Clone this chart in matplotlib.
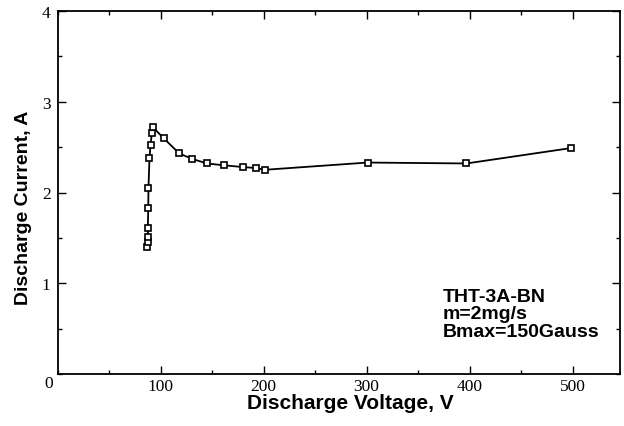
import matplotlib
matplotlib.use("Agg")
import matplotlib.pyplot as plt
from matplotlib.ticker import MultipleLocator

# Discharge current vs. discharge voltage, THT-3A-BN thruster
voltage = [86.7, 87.4, 87.7, 87.7, 88.1, 88.3, 89.3, 90.3, 91.6, 92.5,
           102.9, 118.2, 130.8, 145.0, 161.2, 180.3, 192.2, 201.0,
           301.0, 397.0, 498.7]
current = [1.40, 1.46, 1.51, 1.61, 1.83, 2.05, 2.38, 2.52, 2.66, 2.72,
           2.60, 2.43, 2.37, 2.32, 2.30, 2.28, 2.27, 2.25,
           2.33, 2.32, 2.49]

x_ticks = [100, 200, 300, 400, 500]
y_ticks = [1, 2, 3, 4]
note_lines = ["THT-3A-BN", "m=2mg/s", "Bmax=150Gauss"]

fig = plt.figure(figsize=(6.24, 4.27), dpi=100)
ax = fig.add_axes([57.5 / 624, 52 / 427, 562.5 / 624, 363 / 427])

ax.plot(voltage, current, color="black", lw=1.3, marker="s", ms=4.8,
        mfc="white", mec="black", mew=1.2, zorder=3)

ax.set_xlim(0, 546)
ax.set_ylim(0, 4)

ax.xaxis.set_minor_locator(MultipleLocator(50))
ax.yaxis.set_minor_locator(MultipleLocator(0.5))
ax.set_xticks(x_ticks)
ax.set_yticks(y_ticks)

ax.tick_params(which="both", direction="in", top=True, right=True,
               width=1.0, color="black")
ax.tick_params(which="major", length=6)
ax.tick_params(axis="x", which="major", pad=3)
ax.tick_params(axis="y", which="major", pad=5)
ax.tick_params(which="minor", length=3)

for lab in ax.get_xticklabels() + ax.get_yticklabels():
    lab.set_fontfamily("Liberation Serif")
    lab.set_fontsize(12.5)

for sp in ax.spines.values():
    sp.set_linewidth(1.3)

# shared origin label at the corner
ax.annotate("0", xy=(0, 0), xycoords="data", xytext=(-9, -9),
            textcoords="offset pixels", ha="center", va="center",
            fontfamily="Liberation Serif", fontsize=12.5)

ax.set_xlabel("Discharge Voltage, V", fontfamily="Liberation Sans",
              fontweight="bold", fontsize=15)
ax.xaxis.set_label_coords(0.52, -0.052)
ax.set_ylabel("Discharge Current, A", fontfamily="Liberation Sans",
              fontweight="bold", fontsize=14)
ax.yaxis.set_label_coords(-0.045, 0.46)

ax.text(0.685, 0.2375, "\n".join(note_lines), transform=ax.transAxes,
        ha="left", va="top", fontfamily="Liberation Sans",
        fontweight="bold", fontsize=14, linespacing=1.05)

fig.savefig("out.png", dpi=100, facecolor="white")
